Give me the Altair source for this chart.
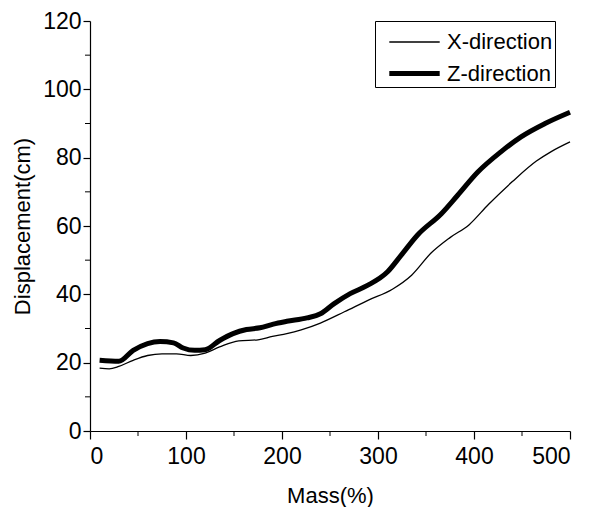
import altair as alt
import pandas as pd

# X-direction (thin line)
x_mass = [10, 20, 30, 45, 60, 75, 90, 105, 120, 135, 155, 175, 190, 205, 220,
          240, 265, 290, 315, 335, 355, 375, 395, 415, 440, 465, 480, 500]
x_disp = [18.4, 18.2, 18.9, 20.7, 22.1, 22.6, 22.6, 22.1, 22.8, 24.6, 26.4, 26.7,
          27.7, 28.5, 29.6, 31.6, 34.9, 38.3, 41.5, 45.6, 52.0, 56.6, 60.4, 66.3,
          73.0, 79.0, 81.7, 84.6]

# Z-direction (thick line)
z_mass = [10, 30, 45, 60, 73, 87, 97, 109, 120, 135, 149, 163, 177, 191, 205,
          226, 240, 254, 271, 289, 310, 324, 341, 366, 383, 404, 428, 449, 474, 500]
z_disp = [20.7, 20.4, 23.6, 25.6, 26.2, 25.8, 24.3, 23.6, 23.8, 26.5, 28.5, 29.7,
          30.2, 31.3, 32.1, 33.1, 34.3, 37.2, 40.2, 42.6, 46.6, 51.4, 57.3, 63.6,
          69.0, 75.8, 81.7, 86.1, 90.0, 93.3]

series_names = ["X-direction", "Z-direction"]
x_ticks = [0, 100, 200, 300, 400, 500]
x_minor = [50, 150, 250, 350, 450]
y_ticks = [0, 20, 40, 60, 80, 100, 120]
y_minor = [10, 30, 50, 70, 90, 110]

df = pd.concat([
    pd.DataFrame({"mass": x_mass, "disp": x_disp, "series": series_names[0]}),
    pd.DataFrame({"mass": z_mass, "disp": z_disp, "series": series_names[1]}),
])

FONT = "Liberation Sans"
W, H = 480, 410

xscale = alt.Scale(domain=[0, 500], nice=False)
yscale = alt.Scale(domain=[0, 120], nice=False)

lines = alt.Chart(df).mark_line(interpolate="monotone", color="black").encode(
    x=alt.X("mass:Q", scale=xscale,
            axis=alt.Axis(title="Mass(%)", values=x_ticks, tickSize=8,
                          labelPadding=6, titlePadding=17)),
    y=alt.Y("disp:Q", scale=yscale,
            axis=alt.Axis(title="Displacement(cm)", values=y_ticks, tickSize=7,
                          labelPadding=2, titlePadding=8)),
    strokeWidth=alt.StrokeWidth(
        "series:N",
        scale=alt.Scale(domain=series_names, range=[1.3, 5]),
        legend=alt.Legend(title=None, orient="none", legendX=285, legendY=0,
                          symbolType="M-1.4,0L1.4,0", symbolSize=1296,
                          symbolStrokeColor="black", symbolOffset=17,
                          labelFontSize=22,
                          labelFont=FONT, labelColor="black", labelOffset=12,
                          rowPadding=-6, padding=2, strokeColor="black",
                          labelLimit=300),
    ),
    detail="series:N",
)

xminor = alt.Chart(pd.DataFrame({"m": x_minor})).mark_rule(color="black", strokeWidth=1).encode(
    x=alt.X("m:Q", scale=xscale),
    y=alt.value(H),
    y2=alt.value(H + 5),
)
yminor = alt.Chart(pd.DataFrame({"v": y_minor})).mark_rule(color="black", strokeWidth=1).encode(
    y=alt.Y("v:Q", scale=yscale),
    x=alt.value(0),
    x2=alt.value(-5),
)

chart = alt.layer(lines, xminor, yminor).properties(
    width=W, height=H,
    autosize=alt.AutoSizeParams(type="none"),
    padding={"left": 82, "top": 13, "right": 11, "bottom": 76},
).configure_view(strokeWidth=0).configure_axis(
    grid=False, domainColor="black", tickColor="black", domainWidth=1.2,
    tickWidth=1.2, labelColor="black", titleColor="black",
    labelFont=FONT, titleFont=FONT, labelFontSize=23, titleFontSize=22,
    titleFontWeight="normal",
)

chart.save("out.html", embed_options={"renderer": "svg", "actions": False})
